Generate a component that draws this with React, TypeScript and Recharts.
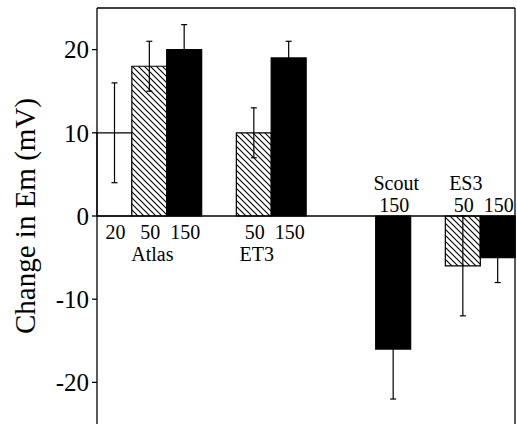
import React from "react";
import {
  BarChart, Bar, XAxis, YAxis, Cell, ErrorBar,
  LabelList, ReferenceLine,
} from "recharts";

const SERIF = "'Liberation Serif', 'Times New Roman', serif";

// one slot per bar position; empty slots give the gaps between groups
const slots = ["a20", "a50", "a150", "gap1", "e50", "e150", "gap2", "gap3", "s150", "gap4", "es50", "es150"];
const doses = ["20", "50", "150", "", "50", "150", "", "", "150", "", "50", "150"];
const groups = ["", "Atlas", "", "", "ET3", "", "", "", "Scout", "", "ES3", ""];
const values = [10, 18, 20, null, 10, 19, null, null, -16, null, -6, -5];
const errors = [6, 3, 3, null, 3, 2, null, null, 6, null, 6, 3];
const kinds = ["open", "hatch", "solid", "", "hatch", "solid", "", "", "solid", "", "hatch", "solid"];
const yTicks = [-20, -10, 0, 10, 20];

const rows = slots.map((key, i) => ({
  key,
  v: values[i],
  err: errors[i],
  dose: doses[i] || null,
  group: groups[i] || null,
}));

const fillOf = (k: string) =>
  k === "solid" ? "#000" : k === "hatch" ? "url(#hatch)" : "#fff";

// the end of the bar that sits on the zero line
function zeroEdge(p: any, v: number) {
  const vb = p.viewBox ?? p;
  const y = Number(vb.y), h = Number(vb.height);
  return v >= 0 ? Math.max(y, y + h) : Math.min(y, y + h);
}

function centerX(p: any) {
  const vb = p.viewBox ?? p;
  return Number(vb.x) + Number(vb.width) / 2;
}

// labels carry the slot key, so the text and the sign come from the arrays
const makeLabel = (texts: string[], below: number, above: number, dx: number) =>
  (p: any) => {
    const i = slots.indexOf(String(p.value));
    if (i < 0 || !texts[i]) return null;
    const v = values[i] as number;
    const z = zeroEdge(p, v);
    return (
      <text x={centerX(p) + dx} y={v >= 0 ? z + below : z - above} textAnchor="middle"
        fontSize={20} style={{ fontFamily: SERIF }} fill="#000">
        {texts[i]}
      </text>
    );
  };

const DoseLabel = makeLabel(doses, 23, 4, 1);
const GroupLabel = makeLabel(groups, 45, 26, 3);

const YTitle = (p: any) => {
  const vb = p.viewBox;
  const cx = 25;
  const cy = vb.y + vb.height / 2;
  return (
    <text x={cx} y={cy} transform={`rotate(-90 ${cx} ${cy})`} textAnchor="middle"
      dominantBaseline="central" fontSize={29} style={{ fontFamily: SERIF }} fill="#000">
      Change in Em (mV)
    </text>
  );
};

export default function App() {
  return (
    <div style={{ position: "absolute", left: 0, top: 0, background: "#fff", fontFamily: SERIF }}>
      <BarChart width={517} height={424} data={rows}
        margin={{ top: 8, right: 2, bottom: 0, left: 0 }}
        barCategoryGap={0} barGap={0}>
        <defs>
          <pattern id="hatch" patternUnits="userSpaceOnUse" width={6} height={6}>
            <rect width={6} height={6} fill="#fff" />
            <path d="M0,0 L6,6 M-1,5 L1,7 M5,-1 L7,1" stroke="#000" strokeWidth={1.1} />
          </pattern>
        </defs>
        <XAxis dataKey="key" hide padding={{ left: 0, right: 0 }} />
        <YAxis
          type="number" domain={[-25, 25]} ticks={yTicks} allowDataOverflow
          width={97} tickSize={5} tickMargin={3}
          axisLine={{ stroke: "#000", strokeWidth: 1.3 }}
          tickLine={{ stroke: "#000", strokeWidth: 1.3 }}
          tick={{ fill: "#000", fontSize: 25, fontFamily: SERIF, style: { fontFamily: SERIF } }}
          label={{ content: YTitle }}
        />
        <ReferenceLine y={25} stroke="#000" strokeWidth={1.3} />
        <ReferenceLine x="es150" position="end" stroke="#000" strokeWidth={1.3} />
        <Bar dataKey="v" isAnimationActive={false} stroke="#000" strokeWidth={1.2}>
          {rows.map((r, i) => (
            <Cell key={r.key} fill={fillOf(kinds[i])} />
          ))}
          <ErrorBar dataKey="err" width={3} stroke="#000" strokeWidth={1.2} direction="y" />
          <LabelList dataKey={(d: any) => (d.dose ? d.key : null)} content={DoseLabel} />
          <LabelList dataKey={(d: any) => (d.group ? d.key : null)} content={GroupLabel} />
        </Bar>
        <ReferenceLine y={0} stroke="#000" strokeWidth={1.3} />
      </BarChart>
    </div>
  );
}
